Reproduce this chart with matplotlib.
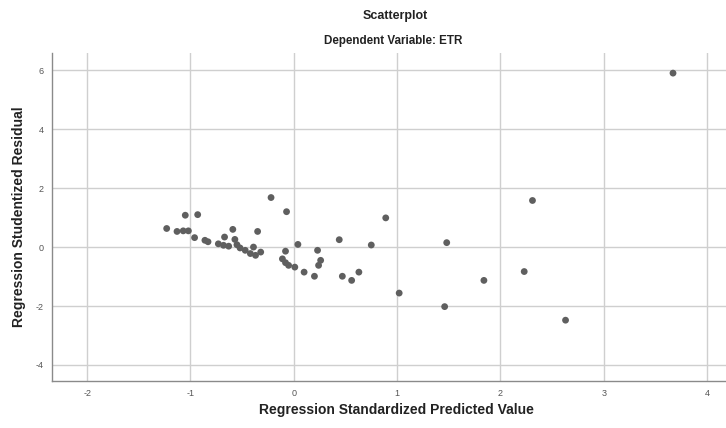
import matplotlib
matplotlib.use("Agg")
import matplotlib.pyplot as plt

plt.rcParams['font.family'] = ['Liberation Sans', 'DejaVu Sans']
plt.rcParams['axes.unicode_minus'] = False

pred = [3.67, 2.31, 1.48, 1.84, 2.23, 1.46, 2.63,
        -0.22, -0.07, 0.89, 0.44, 0.75, 1.02,
        0.04, -0.08, 0.23, -0.11, -0.08, -0.05, 0.01, 0.26, 0.24, 0.10, 0.20,
        0.47, 0.56, 0.63,
        -1.05, -0.93, -1.23, -1.13, -1.07, -1.02, -0.96, -0.86, -0.83,
        -0.59, -0.35, -0.67, -0.57, -0.73, -0.68, -0.63, -0.55, -0.52,
        -0.47, -0.42, -0.39, -0.37, -0.32]
resid = [5.90, 1.58, 0.15, -1.13, -0.83, -2.02, -2.48,
         1.68, 1.20, 0.99, 0.25, 0.07, -1.56,
         0.09, -0.14, -0.11, -0.40, -0.53, -0.62, -0.68, -0.45, -0.62, -0.85, -0.99,
         -0.99, -1.13, -0.85,
         1.08, 1.10, 0.63, 0.53, 0.55, 0.55, 0.32, 0.23, 0.18,
         0.60, 0.53, 0.34, 0.26, 0.11, 0.06, 0.03, 0.08, -0.03,
         -0.11, -0.22, 0.00, -0.28, -0.17]

xticks = [-2, -1, 0, 1, 2, 3, 4]
yticks = [-4, -2, 0, 2, 4, 6]

fig = plt.figure(figsize=(7.26, 4.28), dpi=100)
ax = fig.add_axes([0.0716, 0.110, 0.928, 0.766])
ax.set_xlim(-2.34, 4.18)
ax.set_ylim(-4.54, 6.58)
ax.set_xticks(xticks)
ax.set_yticks(yticks)
ax.grid(True, color='#cfcfcf', linewidth=1.0)
ax.set_axisbelow(True)
ax.scatter(pred, resid, s=24, color='#5f5f5f', edgecolors='none', zorder=3)

for s in ['top', 'right']:
    ax.spines[s].set_visible(False)
for s in ['left', 'bottom']:
    ax.spines[s].set_color('#8a8a8a')
    ax.spines[s].set_linewidth(1.0)
ax.tick_params(axis='both', length=0, labelsize=6.5, colors='#555555', pad=6)

ax.set_xlabel('Regression Standardized Predicted Value', fontsize=10,
              fontweight='bold', color='#222222')
ax.xaxis.set_label_coords(0.511, -0.068)
ax.set_ylabel('Regression Studentized Residual', fontsize=10,
              fontweight='bold', color='#222222', labelpad=7)

fig.text(0.544, 0.962, 'Scatterplot', ha='center', va='center',
         fontsize=9, fontweight='bold', color='#222222')
fig.text(0.541, 0.904, 'Dependent Variable: ETR', ha='center', va='center',
         fontsize=8.4, fontweight='bold', color='#222222')

fig.savefig('out.png', dpi=100)
